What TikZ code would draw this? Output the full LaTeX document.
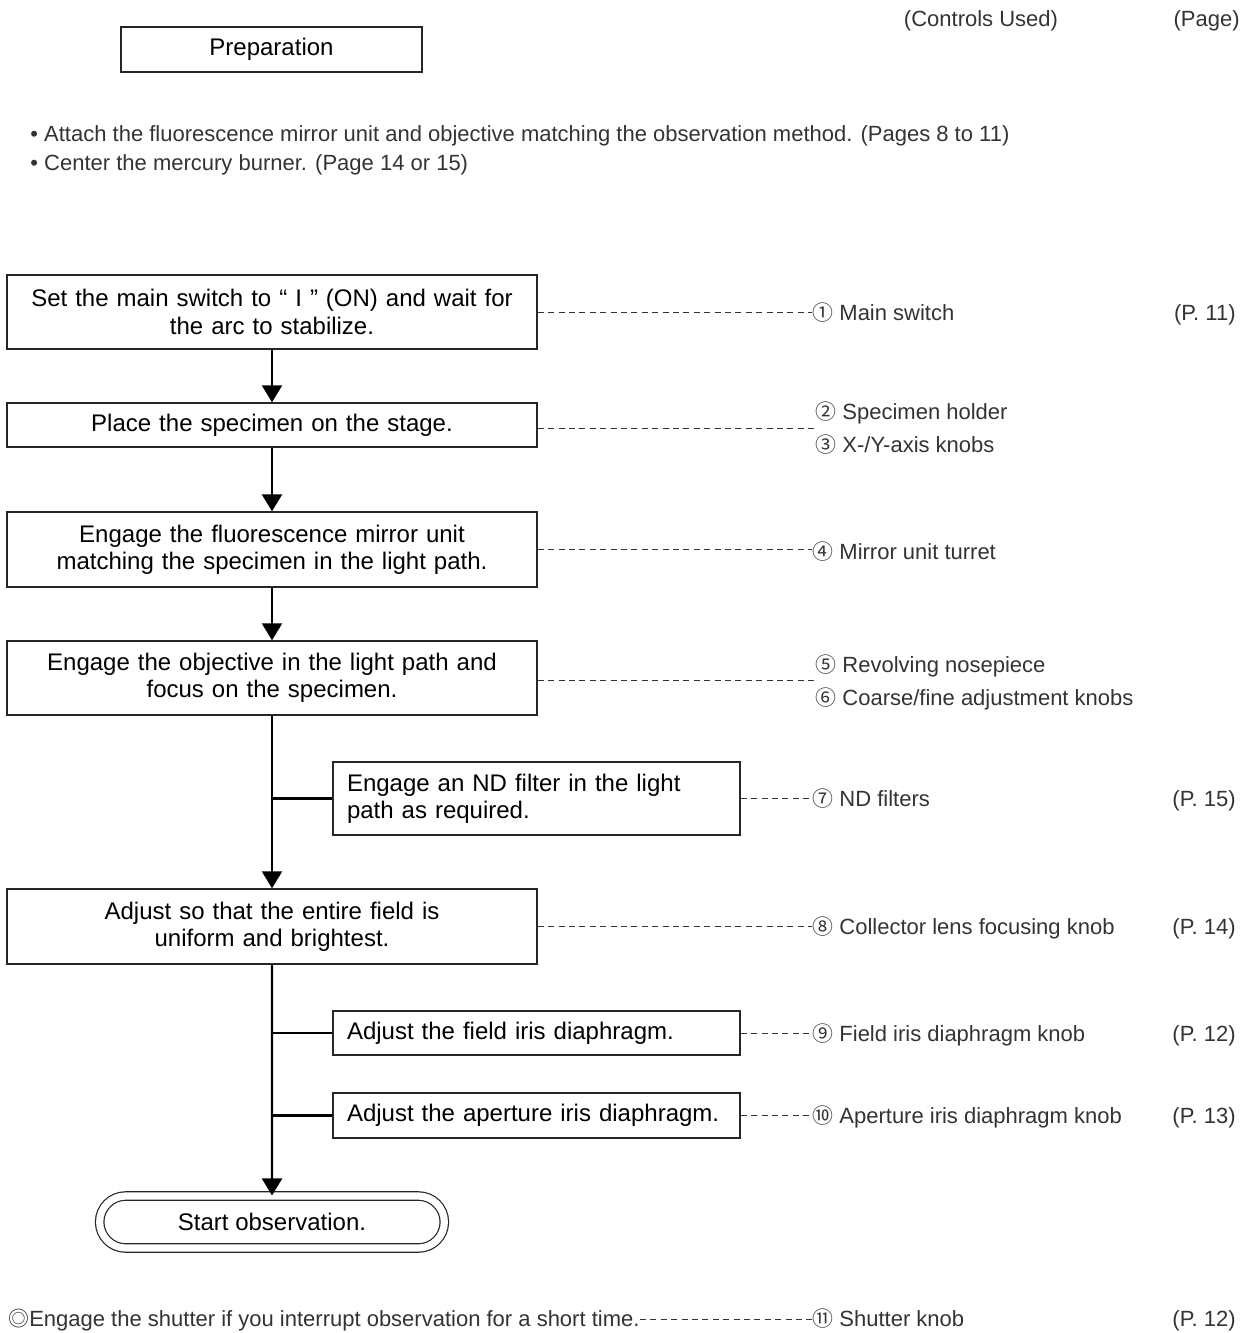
\documentclass[tikz,border=0pt]{standalone}
\usepackage{fontspec}
\setmainfont{Liberation Sans}
\newfontfamily\symfont{Noto Sans CJK JP}[Scale=0.95]
\usetikzlibrary{arrows.meta,shapes.misc,positioning}

\newcommand\cnum[1]{{\symfont #1}\ }

\begin{document}
\begin{tikzpicture}[x=0.5pt,y=-0.5pt,
  stepbox/.style={draw=black!85,line width=0.7pt,minimum width=265pt,
    text width=257pt,inner xsep=4pt,align=center,
    font=\fontsize{12}{13.6}\selectfont},
  sidebox/.style={draw=black!85,line width=0.7pt,minimum width=203.5pt,
    text width=189.5pt,inner xsep=7pt,align=left,
    font=\fontsize{12}{13.6}\selectfont},
  endbox/.style={rounded rectangle,draw=black!85,line width=0.6pt,double,
    double distance=3.6pt,minimum width=179pt,minimum height=26pt,
    font=\fontsize{12}{13.6}\selectfont},
  lbl/.style={inner sep=0pt,anchor=base west,yshift=-4pt,text=black!80,
    font=\fontsize{11}{12}\selectfont},
  pg/.style={lbl,anchor=base east},
  flow/.style={line width=1.2pt,-{Triangle[width=10pt,length=8.5pt]}},
  branch/.style={line width=1.2pt},
  leader/.style={line width=0.5pt,black!80,dash pattern=on 3pt off 2.2pt}]
  \useasboundingbox (0,0) rectangle (1253,1333);

  % header
  \node[lbl,anchor=base] (hdctl) at (981,18) {(Controls Used)};
  \node[pg] (hdpg) at (1240,18) {(Page)};
  \node[draw=black!85,line width=0.7pt,minimum width=150.5pt,minimum height=22.5pt,
    font=\fontsize{12}{13.6}\selectfont] (prep) at (271.5,49.5) {Preparation};
  \node[lbl] (pre1) at (30,133)
    {• Attach the fluorescence mirror unit and objective matching the observation method. (Pages 8 to 11)};
  \node[lbl] (pre2) at (30,162)
    {• Center the mercury burner. (Page 14 or 15)};

  % steps
  \node[stepbox,minimum height=37pt] (sw) at (272,312)
    {Set the main switch to “ I ” (ON) and wait for\\the arc to stabilize.};
  \node[stepbox,minimum height=22pt] (spec) at (272,425)
    {Place the specimen on the stage.};
  \node[stepbox,minimum height=37.5pt] (mirr) at (272,549.5)
    {Engage the fluorescence mirror unit\\matching the specimen in the light path.};
  \node[stepbox,minimum height=37pt] (obj) at (272,678)
    {Engage the objective in the light path and\\focus on the specimen.};
  \node[sidebox,minimum height=36.5pt] (nd) at (536.5,798.5)
    {Engage an ND filter in the light\\path as required.};
  \node[stepbox,minimum height=37.5pt] (fld) at (272,926.5)
    {Adjust so that the entire field is\\uniform and brightest.};
  \node[sidebox,minimum height=22pt] (fi) at (536.5,1033)
    {Adjust the field iris diaphragm.};
  \node[sidebox,minimum height=22.5pt] (ap) at (536.5,1115.5)
    {Adjust the aperture iris diaphragm.};
  \node[endbox] (start) at (272,1222) {Start observation.};

  % flow
  \draw[flow] (sw) -- (spec);
  \draw[flow] (spec) -- (mirr);
  \draw[flow] (mirr) -- (obj);
  \draw[flow] (obj) -- (fld);
  \draw[branch] (nd.west) -- (nd.west -| obj.south);
  \draw[flow] (fld) -- (start);
  \draw[branch] (fi.west) -- (fi.west -| fld.south);
  \draw[branch] (ap.west) -- (ap.west -| fld.south);

  % controls used
  \node[lbl] (c1) at (812,312) {\cnum{①}Main switch};
  \node[pg] (p1) at (1236,312) {(P. 11)};
  \node[lbl] (c2) at (815,411) {\cnum{②}Specimen holder};
  \node[lbl] (c3) at (815,444) {\cnum{③}X-/Y-axis knobs};
  \coordinate (j23) at (815,428);
  \node[lbl] (c4) at (812,551) {\cnum{④}Mirror unit turret};
  \node[lbl] (c5) at (815,664) {\cnum{⑤}Revolving nosepiece};
  \node[lbl] (c6) at (815,697) {\cnum{⑥}Coarse/fine adjustment knobs};
  \coordinate (j56) at (815,680);
  \node[lbl] (c7) at (812,798.5) {\cnum{⑦}ND filters};
  \node[pg] (p7) at (1236,798.5) {(P. 15)};
  \node[lbl] (c8) at (812,926.5) {\cnum{⑧}Collector lens focusing knob};
  \node[pg] (p8) at (1236,926.5) {(P. 14)};
  \node[lbl] (c9) at (812,1033) {\cnum{⑨}Field iris diaphragm knob};
  \node[pg] (p9) at (1236,1033) {(P. 12)};
  \node[lbl] (c10) at (812,1115.5) {\cnum{⑩}Aperture iris diaphragm knob};
  \node[pg] (p10) at (1236,1115.5) {(P. 13)};

  \draw[leader] (sw.east) -- (sw.east -| c1.west);
  \draw[leader] (spec.east |- j23) -- (j23);
  \draw[leader] (mirr.east) -- (mirr.east -| c4.west);
  \draw[leader] (obj.east |- j56) -- (j56);
  \draw[leader] (nd.east) -- (nd.east -| c7.west);
  \draw[leader] (fld.east) -- (fld.east -| c8.west);
  \draw[leader] (fi.east) -- (fi.east -| c9.west);
  \draw[leader] (ap.east) -- (ap.east -| c10.west);

  % note
  \node[lbl] (note) at (8,1318)
    {{\symfont ◎}Engage the shutter if you interrupt observation for a short time.};
  \node[lbl] (c11) at (812,1318) {\cnum{⑪}Shutter knob};
  \node[pg] (p11) at (1236,1318) {(P. 12)};
  \draw[leader] (note.east) -- (note.east -| c11.west);
\end{tikzpicture}
\end{document}
